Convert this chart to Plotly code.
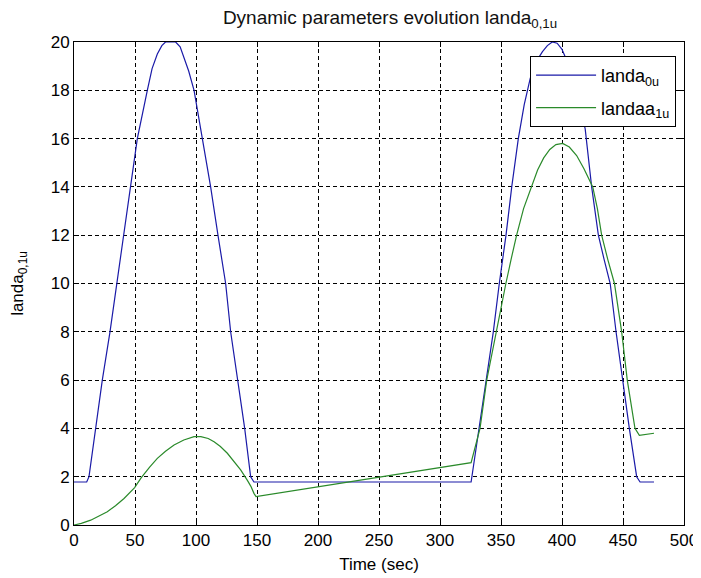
import plotly.graph_objects as go

# landa_0u (blue)
t0 = [0, 10.4, 12.3, 17.8, 23.2, 29.5, 35, 40.4, 45.9, 51.9, 60.1, 64, 68.3, 72, 75, 79, 83.3,
      87, 90, 94, 98.4, 105.2, 112, 118, 124.3, 128.4, 134.4, 139.9, 144.8, 147.5,
      325.5, 332.2, 337.7, 343.7, 348.6, 354.1, 358.8, 364.2, 369, 374, 379, 384, 388, 392,
      396, 400, 405, 410, 414.5, 419, 424.3, 429.8, 434.5, 439.5, 444.3, 449.7, 455.2, 461.2,
      464, 475.4]
v0 = [1.78, 1.78, 2, 4, 6, 8, 10, 12, 14, 16, 18, 18.9, 19.5, 19.85, 20, 20, 20,
      19.8, 19.4, 18.8, 18, 16, 14, 12, 10, 8, 6, 4, 2, 1.78,
      1.78, 4, 6, 8, 10, 12, 14, 16, 17.4, 18.5, 19.2, 19.6, 19.85, 20,
      19.95, 19.7, 19.1, 18.3, 17.4, 16.4, 14, 12, 11, 10, 8, 6, 4, 2,
      1.78, 1.78]

# landaa_1u (green)
t1 = [0, 6, 13.7, 20, 27.3, 34, 41, 49.7, 55, 62, 68.3, 75, 82, 90, 98.4, 104, 110, 114.8,
      120, 125.7, 131, 136.6, 142, 145, 147.5, 149.2,
      325.5, 332.8, 338.3, 345.9, 354, 358.5, 362.8, 368.5, 375.1, 380, 385, 390, 395, 400.5,
      406, 412, 418, 425.2, 429, 432.5, 437.5, 443, 448.9, 453.5, 459.8, 463.4, 475.4]
v1 = [0, 0.07, 0.2, 0.35, 0.55, 0.8, 1.1, 1.55, 1.95, 2.4, 2.76, 3.05, 3.31, 3.52, 3.66, 3.66, 3.58, 3.45,
      3.25, 2.97, 2.65, 2.28, 1.86, 1.6, 1.31, 1.18,
      2.58, 4, 6, 8, 10, 11.05, 12, 13.1, 14, 14.7, 15.2, 15.55, 15.75, 15.8,
      15.65, 15.3, 14.75, 14, 13.1, 12, 11, 10, 8, 6, 4, 3.71, 3.8]

names = ["landa<sub>0u</sub>", "landaa<sub>1u</sub>"]
title_text = "Dynamic parameters evolution landa<sub>0,1u</sub>"
x_title = "Time (sec)"
y_title = "landa<sub>0,1u</sub>"

FONT = "Liberation Sans, Arial, sans-serif"

fig = go.Figure()
fig.add_trace(go.Scatter(x=t0, y=v0, mode="lines", name=names[0], legendgroup="a",
                         line=dict(color="#1a1aa8", width=1.2)))
fig.add_trace(go.Scatter(x=t1, y=v1, mode="lines", name=names[1], legendgroup="b",
                         line=dict(color="#2a8a2a", width=1.2)))

axis_common = dict(
    showline=True, linecolor="black", linewidth=1, mirror="allticks",
    ticks="inside", ticklen=5, tickcolor="black",
    showgrid=True, gridcolor="black", gridwidth=1, griddash="4px,3px",
    zeroline=False, automargin=False,
    tickfont=dict(family=FONT, size=17, color="black"),
)

fig.update_layout(
    width=701, height=578,
    margin=dict(l=66, r=25, t=34, b=61, autoexpand=False),
    paper_bgcolor="white", plot_bgcolor="white",
    font=dict(family=FONT, color="black"),
    title=dict(text=title_text, x=0.545, xanchor="center", y=0.984, yanchor="middle",
               automargin=False,
               font=dict(family=FONT, size=19, color="#111")),
    xaxis=dict(range=[0, 500], dtick=50, tick0=0,
               title=dict(text=x_title, font=dict(family=FONT, size=17), standoff=8),
               **axis_common),
    yaxis=dict(range=[0, 20], dtick=2, tick0=0,
               title=dict(text=y_title, font=dict(family=FONT, size=17), standoff=33),
               **axis_common),
    legend=dict(x=0.987, xanchor="right", y=0.971, yanchor="top",
                bgcolor="white", bordercolor="black", borderwidth=1,
                font=dict(family=FONT, size=18, color="black"),
                itemwidth=60, tracegroupgap=6),
    showlegend=True,
)

fig.write_html("out.html")
